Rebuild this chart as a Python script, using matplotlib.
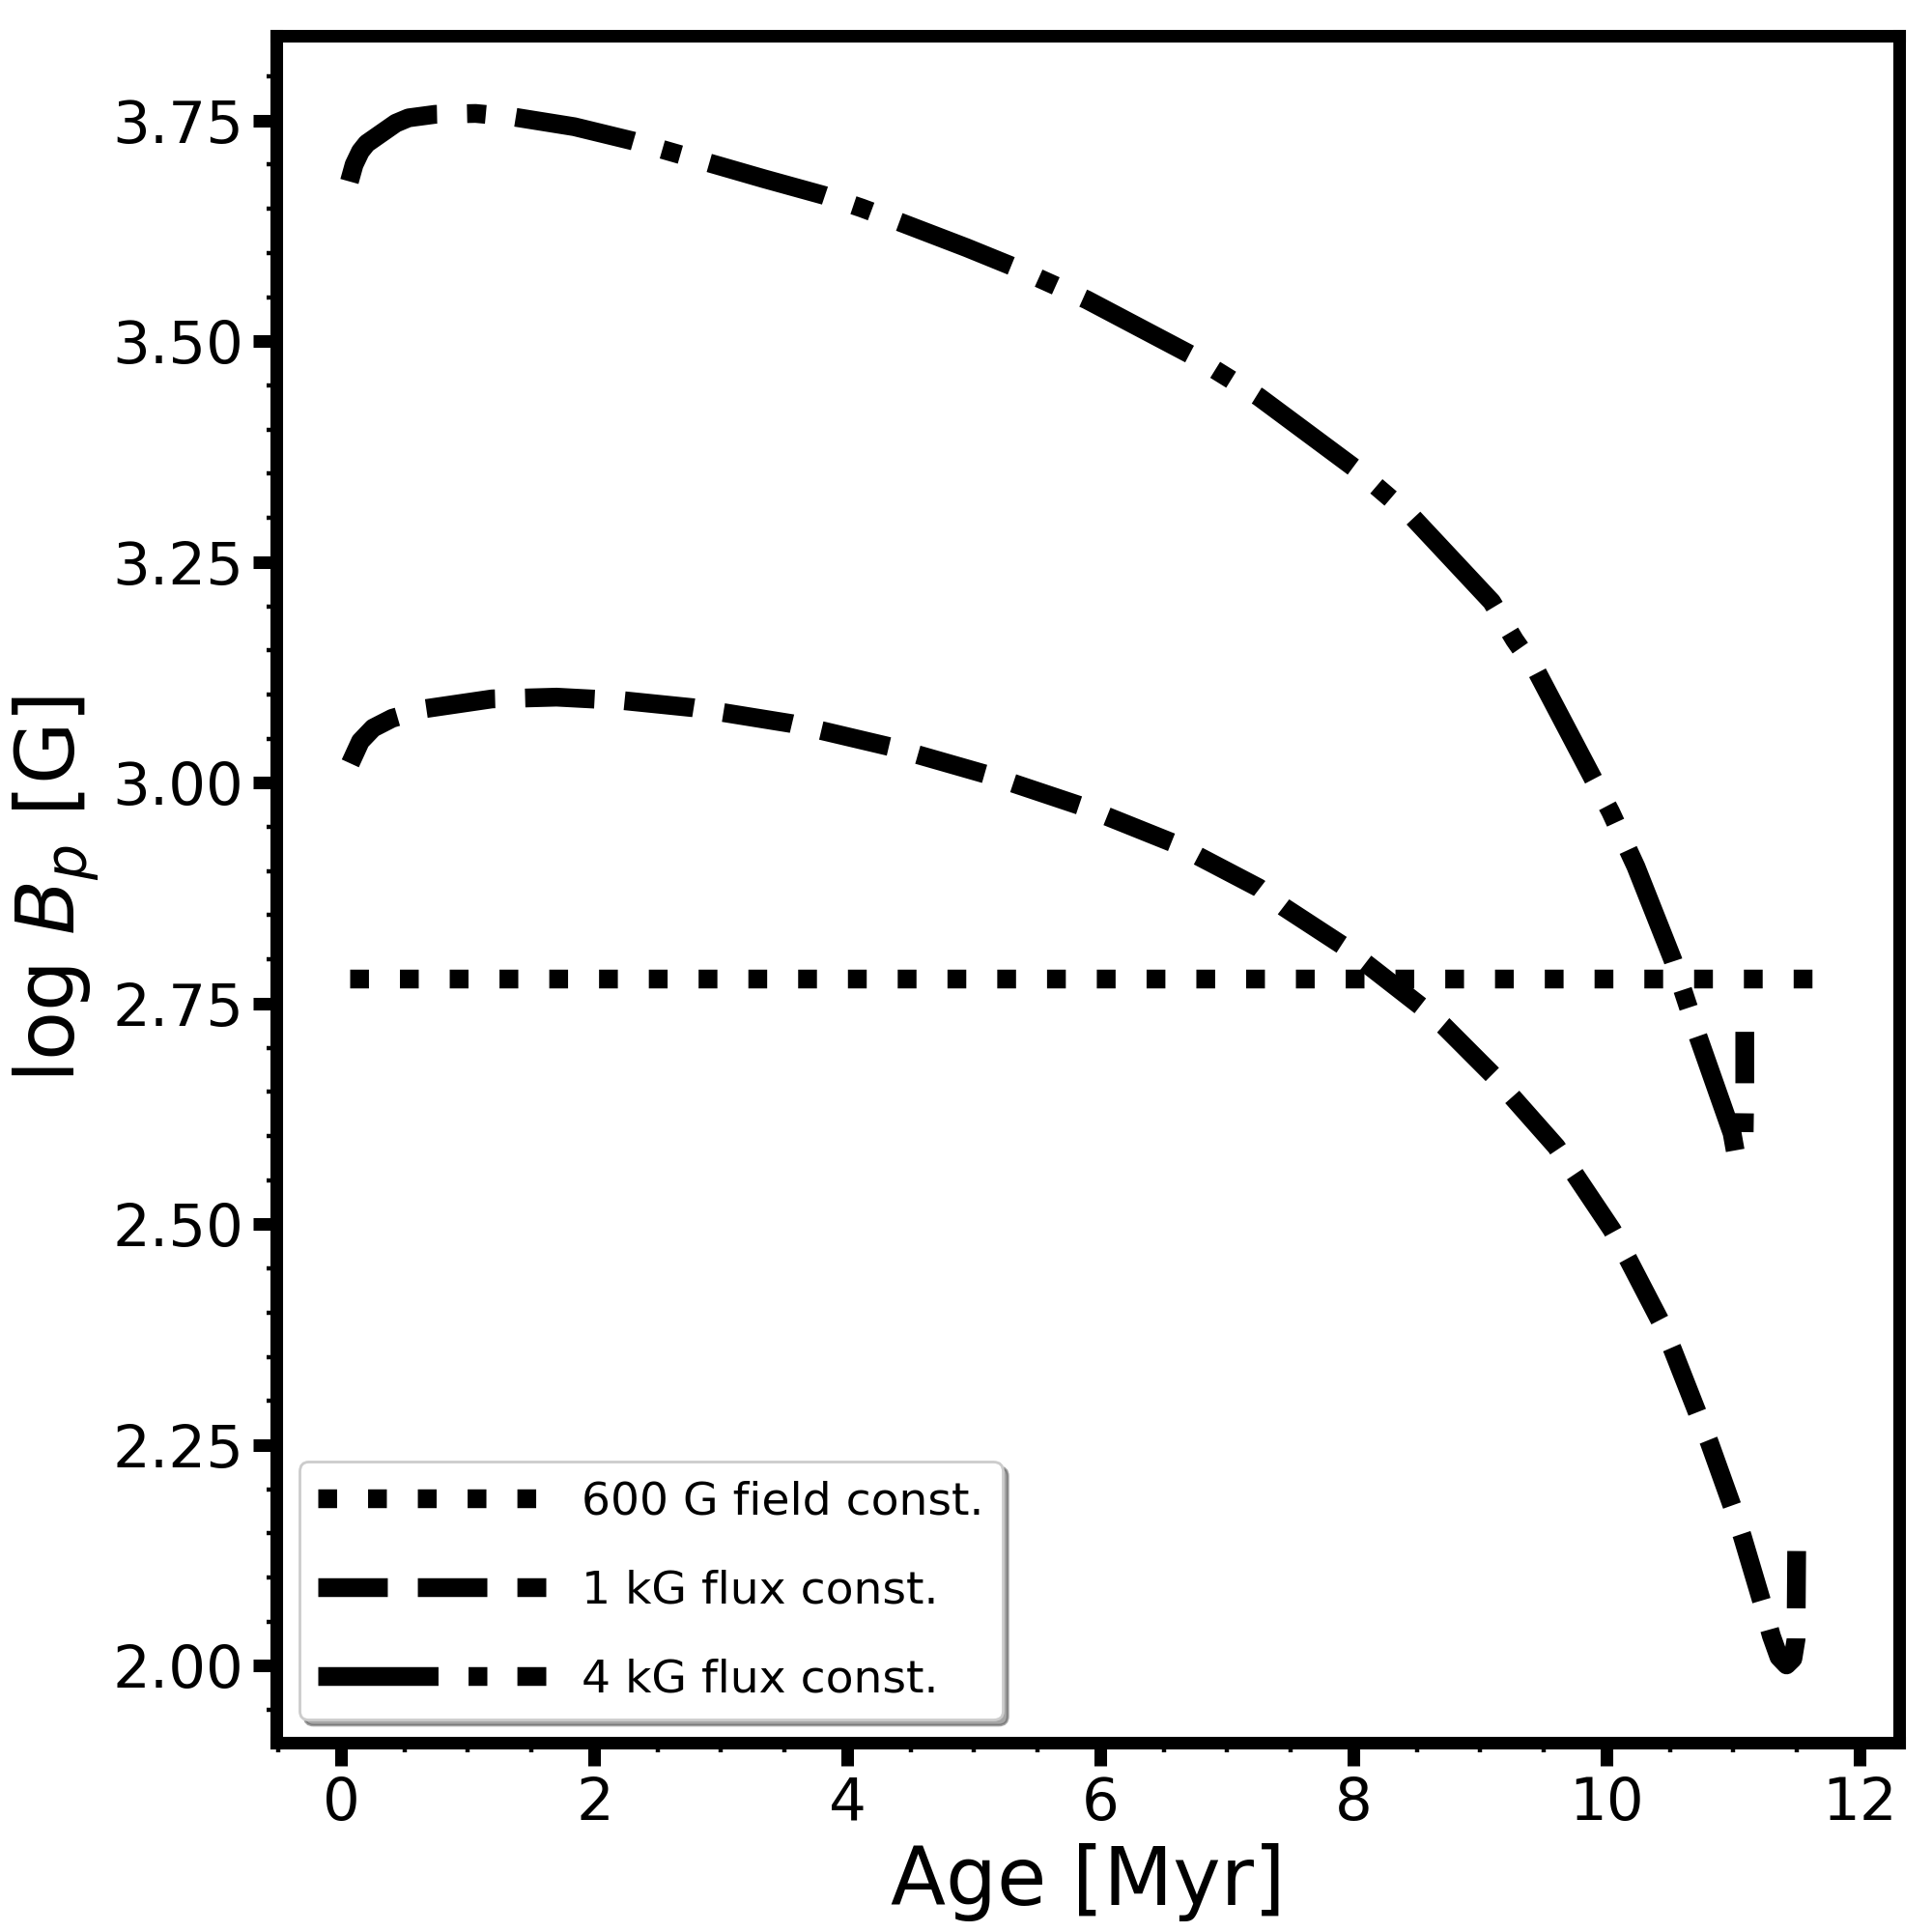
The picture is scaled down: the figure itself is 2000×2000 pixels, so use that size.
import matplotlib
matplotlib.use("Agg")
import matplotlib.pyplot as plt
from matplotlib.ticker import MultipleLocator
import numpy as np

# constant 600 G field
age_600 = [0.068, 11.73]
logb_600 = [2.778, 2.778]

# 1 kG flux conservation
age_1k = [0.07, 0.15, 0.25, 0.40, 0.665, 1.19, 1.70, 2.23, 2.78, 3.56,
          4.33, 5.11, 5.84, 6.57, 7.25, 7.45, 7.91, 8.10, 8.53, 8.71,
          9.10, 9.60, 10.04, 10.17, 10.42, 10.52, 10.72, 10.81, 10.99, 11.07,
          11.23, 11.30, 11.36, 11.42, 11.47, 11.495, 11.50]
logb_1k = [3.022, 3.047, 3.062, 3.073, 3.084, 3.095, 3.097, 3.093, 3.085, 3.067,
           3.041, 3.009, 2.974, 2.932, 2.881, 2.859, 2.816, 2.795, 2.747, 2.725,
           2.669, 2.588, 2.494, 2.460, 2.391, 2.358, 2.285, 2.253, 2.181, 2.147,
           2.070, 2.034, 2.010, 2.001, 2.008, 2.030, 2.130]

# 4 kG flux conservation
age_4k = [0.063, 0.10, 0.15, 0.20, 0.33, 0.43, 0.53, 0.74, 1.06, 1.36,
          1.84, 2.30, 2.59, 3.34, 3.82, 4.11, 4.43, 4.94, 5.30, 5.89,
          6.71, 7.25, 8.03, 8.47, 9.09, 9.27, 9.45, 10.03, 10.23, 10.52,
          10.72, 10.99, 11.02, 11.06, 11.085, 11.09, 11.09]
logb_4k = [3.681, 3.700, 3.715, 3.724, 3.737, 3.747, 3.753, 3.757, 3.758, 3.754,
           3.743, 3.727, 3.715, 3.684, 3.665, 3.651, 3.634, 3.606, 3.585, 3.547,
           3.485, 3.437, 3.354, 3.300, 3.205, 3.162, 3.125, 2.967, 2.905, 2.800,
           2.713, 2.603, 2.579, 2.582, 2.600, 2.650, 2.718]

labels = ["600 G field const.", "1 kG flux const.", "4 kG flux const."]

fig = plt.figure(figsize=(10, 10), dpi=200)
ax = fig.add_axes([0.143, 0.098, 0.840, 0.8835])

ax.plot(age_600, logb_600, color="k", lw=7, ls=":", label=labels[0])
ax.plot(age_1k, logb_1k, color="k", lw=7, ls="--", label=labels[1])
ax.plot(age_4k, logb_4k, color="k", lw=7, ls="-.", label=labels[2])

ax.set_xlim(-0.515, 12.31)
ax.set_ylim(1.913, 3.846)

ax.xaxis.set_major_locator(MultipleLocator(2))
ax.xaxis.set_minor_locator(MultipleLocator(0.5))
ax.yaxis.set_major_locator(MultipleLocator(0.25))
ax.yaxis.set_minor_locator(MultipleLocator(0.05))

for sp in ax.spines.values():
    sp.set_linewidth(4.7)
ax.tick_params(which="major", direction="out", length=8.6, width=4.7,
               labelsize=22, pad=3.5)
ax.tick_params(which="minor", direction="out", length=3.6, width=1.6)

ax.set_xlabel("Age [Myr]", fontsize=30)
ax.set_ylabel(r"log $B_p$ [G]", fontsize=30)

ax.legend(loc="lower left", fontsize=17, handlelength=5.0, labelspacing=1.0,
          shadow=True)

fig.savefig("out.png", dpi=200)
